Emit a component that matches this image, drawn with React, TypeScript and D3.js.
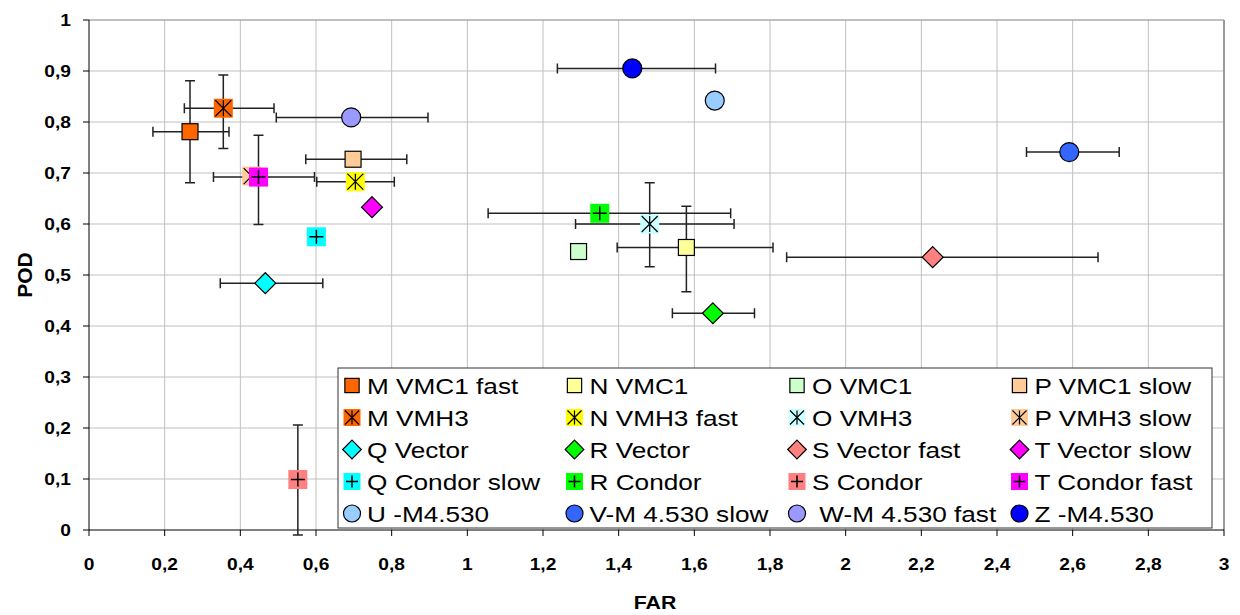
import * as d3 from "d3";

// series, in legend order (4 columns, row by row)
const seriesNames = [
  "M VMC1 fast", "N VMC1", "O VMC1", "P VMC1 slow",
  "M VMH3", "N VMH3 fast", "O VMH3", "P VMH3 slow",
  "Q Vector", "R Vector", "S Vector fast", "T Vector slow",
  "Q Condor slow", "R Condor", "S Condor", "T Condor fast",
  "U -M4.530", "V-M 4.530 slow", " W-M 4.530 fast", "Z -M4.530",
];
const farValues = [
  0.267, 1.579, 1.294, 0.698,
  0.355, 0.704, 1.482, 0.430,
  0.466, 1.649, 2.230, 0.748,
  0.601, 1.350, 0.552, 0.448,
  1.654, 2.591, 0.693, 1.436,
];
const podValues = [
  0.781, 0.554, 0.546, 0.727,
  0.827, 0.683, 0.600, 0.694,
  0.484, 0.425, 0.535, 0.633,
  0.575, 0.621, 0.099, 0.692,
  0.842, 0.741, 0.809, 0.905,
];
// error bar ends (null = no bar)
const farLow = [
  0.169, 1.396, null, 0.573,
  0.252, 0.602, 1.286, null,
  0.347, 1.542, 1.844, null,
  null, 1.055, null, 0.329,
  null, 2.478, 0.495, 1.238,
];
const farHigh = [
  0.370, 1.808, null, 0.840,
  0.489, 0.807, 1.705, null,
  0.618, 1.759, 2.667, null,
  null, 1.696, null, 0.596,
  null, 2.723, 0.896, 1.656,
];
const podLow = [
  0.681, 0.467, null, null,
  0.748, null, 0.516, null,
  null, null, null, null,
  null, null, -0.010, 0.599,
  null, null, null, null,
];
const podHigh = [
  0.881, 0.635, null, null,
  0.892, null, 0.681, null,
  null, null, null, null,
  null, null, 0.206, 0.774,
  null, null, null, null,
];

const xTicks = [0, 0.2, 0.4, 0.6, 0.8, 1, 1.2, 1.4, 1.6, 1.8, 2, 2.2, 2.4, 2.6, 2.8, 3];
const xTickLabels = ["0", "0,2", "0,4", "0,6", "0,8", "1", "1,2", "1,4", "1,6", "1,8", "2", "2,2", "2,4", "2,6", "2,8", "3"];
const yTicks = [0, 0.1, 0.2, 0.3, 0.4, 0.5, 0.6, 0.7, 0.8, 0.9, 1];
const yTickLabels = ["0", "0,1", "0,2", "0,3", "0,4", "0,5", "0,6", "0,7", "0,8", "0,9", "1"];

// marker styles
const colors = [
  "#FF6600", "#FFFF99", "#CCFFCC", "#FFCC99",
  "#FF6600", "#FFFF00", "#CCFFFF", "#FFCC99",
  "#00FFFF", "#00FF00", "#FF8080", "#FF00FF",
  "#00FFFF", "#00FF00", "#FF8080", "#FF00FF",
  "#99CCFF", "#3366FF", "#9999FF", "#0000FF",
];
const shapes = [
  "square", "square", "square", "square",
  "star", "star", "star", "star",
  "diamond", "diamond", "diamond", "diamond",
  "plus", "plus", "plus", "plus",
  "circle", "circle", "circle", "circle",
];

const W = 1240;
const H = 615;
const FONT = "'Liberation Sans', Arial, sans-serif";

const x = d3.scaleLinear().domain([0, 3]).range([89, 1224]);
const y = d3.scaleLinear().domain([0, 1]).range([530, 20]);

const Marker = ({ cx, cy, shape, color, s }: { cx: number; cy: number; shape: string; color: string; s: number }) => {
  if (shape === "square") {
    const h = s * 0.42;
    return <rect x={cx - h} y={cy - h} width={2 * h} height={2 * h} fill={color} stroke="#000" strokeWidth={1.2} />;
  }
  if (shape === "star") {
    const h = s * 0.5;
    const a = h - 1.5;
    return (
      <g>
        <rect x={cx - h} y={cy - h} width={2 * h} height={2 * h} fill={color} />
        <path
          d={`M${cx - a},${cy - a}L${cx + a},${cy + a}M${cx - a},${cy + a}L${cx + a},${cy - a}M${cx},${cy - a}L${cx},${cy + a}`}
          stroke="#000"
          strokeWidth={1.2}
        />
      </g>
    );
  }
  if (shape === "plus") {
    const h = s * 0.5;
    const a = h - 2.5;
    return (
      <g>
        <rect x={cx - h} y={cy - h} width={2 * h} height={2 * h} fill={color} />
        <path d={`M${cx - a},${cy}L${cx + a},${cy}M${cx},${cy - a}L${cx},${cy + a}`} stroke="#000" strokeWidth={1.5} />
      </g>
    );
  }
  if (shape === "diamond") {
    const h = s * 0.55;
    return (
      <path
        d={`M${cx},${cy - h}L${cx + h},${cy}L${cx},${cy + h}L${cx - h},${cy}Z`}
        fill={color}
        stroke="#000"
        strokeWidth={1.2}
      />
    );
  }
  return <circle cx={cx} cy={cy} r={s * 0.5} fill={color} stroke="#000" strokeWidth={1.2} />;
};

export default function App() {
  const idx = d3.range(seriesNames.length);
  const cap = 5;

  return (
    <svg width={W} height={H} style={{ position: "absolute", left: 0, top: 0, background: "#fff" }}>
      {/* grid */}
      <g stroke="#c0c0c0" strokeWidth={1}>
        {xTicks.slice(1, -1).map((t) => (
          <line key={"gx" + t} x1={x(t)} x2={x(t)} y1={y(0)} y2={y(1)} />
        ))}
        {yTicks.slice(1).map((t) => (
          <line key={"gy" + t} x1={x(0)} x2={x(3)} y1={y(t)} y2={y(t)} />
        ))}
      </g>
      <line x1={x(3)} x2={x(3)} y1={y(0)} y2={y(1)} stroke="#999" strokeWidth={2} />
      <line x1={x(0)} x2={x(3)} y1={y(1)} y2={y(1)} stroke="#a0a0a0" strokeWidth={1} />

      {/* axes */}
      <g stroke="#000" strokeWidth={1}>
        <line x1={x(0)} x2={x(0)} y1={y(0)} y2={y(1)} />
        <line x1={x(0)} x2={x(3)} y1={y(0)} y2={y(0)} />
        {xTicks.map((t) => (
          <line key={"tx" + t} x1={x(t)} x2={x(t)} y1={y(0)} y2={y(0) + 6} />
        ))}
        {yTicks.map((t) => (
          <line key={"ty" + t} x1={x(0) - 6} x2={x(0)} y1={y(t)} y2={y(t)} />
        ))}
      </g>
      <g fontFamily={FONT} fontWeight="bold" fontSize={17} fill="#000">
        {xTicks.map((t, i) => (
          <text key={"lx" + t} textAnchor="middle" transform={`translate(${x(t)},${570}) scale(1.13,1)`}>
            {xTickLabels[i]}
          </text>
        ))}
        {yTicks.map((t, i) => (
          <text key={"ly" + t} textAnchor="end" transform={`translate(71,${y(t) + 6}) scale(1.13,1)`}>
            {yTickLabels[i]}
          </text>
        ))}
        <text textAnchor="middle" fontSize={19} transform={`translate(655,609) scale(1.12,1)`}>
          FAR
        </text>
        <text textAnchor="middle" fontSize={21} transform={`translate(32,275) rotate(-90)`}>
          POD
        </text>
      </g>

      {/* error bars */}
      <g stroke="#222" strokeWidth={1.5} fill="none">
        {idx.map((i) => {
          const cx = x(farValues[i]);
          const cy = y(podValues[i]);
          const parts: string[] = [];
          if (farLow[i] != null && farHigh[i] != null) {
            const a = x(farLow[i] as number);
            const b = x(farHigh[i] as number);
            parts.push(`M${a},${cy}L${b},${cy}M${a},${cy - cap}L${a},${cy + cap}M${b},${cy - cap}L${b},${cy + cap}`);
          }
          if (podLow[i] != null && podHigh[i] != null) {
            const a = y(podLow[i] as number);
            const b = y(podHigh[i] as number);
            parts.push(`M${cx},${a}L${cx},${b}M${cx - cap},${a}L${cx + cap},${a}M${cx - cap},${b}L${cx + cap},${b}`);
          }
          return parts.length ? <path key={"e" + i} d={parts.join("")} /> : null;
        })}
      </g>

      {/* markers */}
      <g>
        {idx.map((i) => (
          <Marker key={"m" + i} cx={x(farValues[i])} cy={y(podValues[i])} shape={shapes[i]} color={colors[i]} s={19} />
        ))}
      </g>

      {/* legend */}
      <g>
        <rect x={338} y={368} width={874} height={160} fill="#fff" stroke="#333" strokeWidth={1} />
        {idx.map((i) => {
          const col = i % 4;
          const row = Math.floor(i / 4);
          const mx = 352 + col * 222.5;
          const my = 385.5 + row * 32;
          return (
            <g key={"lg" + i}>
              <Marker cx={mx} cy={my} shape={shapes[i]} color={colors[i]} s={17} />
              <text
                transform={`translate(${mx + 15},${my + 8}) scale(1.19,1)`}
                fontFamily={FONT}
                fontSize={22}
                fill="#000"
                style={{ whiteSpace: "pre" }}
              >
                {seriesNames[i]}
              </text>
            </g>
          );
        })}
      </g>
    </svg>
  );
}
